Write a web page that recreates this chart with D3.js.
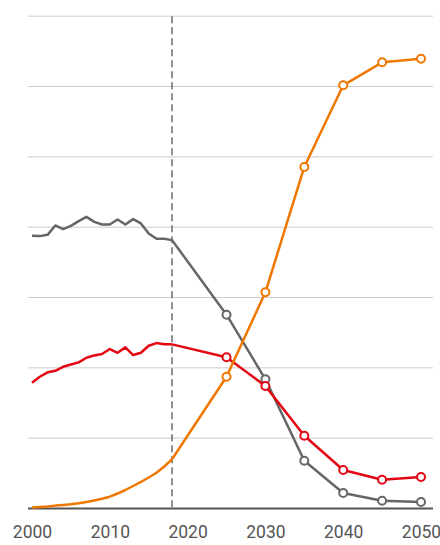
<!DOCTYPE html>
<html>
<head>
<meta charset="utf-8">
<script src="https://cdn.jsdelivr.net/npm/d3@7"></script>
<style>
  html, body { margin: 0; padding: 0; background: #fff; }
  svg { display: block; }
</style>
</head>
<body>
<svg id="chart" width="440" height="545"></svg>
<script>
// Historic yearly series 2000–2018 and projections 2025–2050
const histYears = d3.range(2000, 2019);
const projYears = [2018, 2025, 2030, 2035, 2040, 2045, 2050];

const grayHist = [38.77, 38.73, 38.91, 40.25, 39.72, 40.19, 40.86, 41.47, 40.76, 40.39,
                  40.39, 41.10, 40.39, 41.15, 40.53, 39.11, 38.35, 38.35, 38.16];
const redHist = [17.88, 18.73, 19.36, 19.58, 20.15, 20.47, 20.78, 21.43, 21.77, 21.96,
                 22.67, 22.14, 22.91, 21.82, 22.14, 23.14, 23.52, 23.34, 23.34];
const orangeHist = [0.14, 0.21, 0.28, 0.41, 0.50, 0.61, 0.75, 0.92, 1.14, 1.38,
                    1.68, 2.13, 2.63, 3.20, 3.77, 4.41, 5.09, 5.97, 7.00];

const grayProj = [38.16, 27.56, 18.37, 6.80, 2.20, 1.11, 0.92];
const redProj = [23.34, 21.50, 17.42, 10.35, 5.47, 4.10, 4.48];
const orangeProj = [7.00, 18.74, 30.74, 48.56, 60.17, 63.44, 63.96];

const xTicks = [2000, 2010, 2020, 2030, 2040, 2050];
const yTicks = [0, 10, 20, 30, 40, 50, 60, 70];
const markerYear = 2018;

const series = [
  { color: "#666666", hist: grayHist, proj: grayProj },
  { color: "#e30613", hist: redHist, proj: redProj },
  { color: "#f07800", hist: orangeHist, proj: orangeProj }
];

const svg = d3.select("#chart");
const x = d3.scaleLinear().domain([2000, 2050]).range([32, 421]);
const y = d3.scaleLinear().domain([0, 70]).range([508.5, 16.2]);

// horizontal grid
svg.append("g")
  .selectAll("line")
  .data(yTicks.filter(d => d > 0))
  .join("line")
  .attr("x1", 28).attr("x2", 433)
  .attr("y1", d => y(d)).attr("y2", d => y(d))
  .attr("stroke", "#cccccc")
  .attr("stroke-width", 1);

// x axis
const xAxis = svg.append("g")
  .attr("transform", `translate(0,${y(0)})`)
  .call(d3.axisBottom(x).tickValues(xTicks).tickFormat(d3.format("d")).tickSize(0).tickPadding(17));
xAxis.select(".domain").remove();
xAxis.selectAll("text")
  .attr("font-family", "Roboto, sans-serif")
  .attr("font-size", 17.5)
  .attr("fill", "#555");

// vertical dashed line at the last historic year
svg.append("line")
  .attr("x1", x(markerYear)).attr("x2", x(markerYear))
  .attr("y1", y(70)).attr("y2", y(0))
  .attr("stroke", "#606060")
  .attr("stroke-width", 1.4)
  .attr("stroke-dasharray", "7,4");

// baseline
svg.append("line")
  .attr("x1", 28).attr("x2", 433)
  .attr("y1", y(0)).attr("y2", y(0))
  .attr("stroke", "#555")
  .attr("stroke-width", 2);

const line = d3.line().x(d => x(d[0])).y(d => y(d[1]));

series.forEach(s => {
  const hist = histYears.map((yr, i) => [yr, s.hist[i]]);
  const proj = projYears.map((yr, i) => [yr, s.proj[i]]);
  const g = svg.append("g");
  g.append("path").datum(hist).attr("d", line)
    .attr("fill", "none").attr("stroke", s.color)
    .attr("stroke-width", 2.5).attr("stroke-linejoin", "round");
  g.append("path").datum(proj).attr("d", line)
    .attr("fill", "none").attr("stroke", s.color)
    .attr("stroke-width", 2.5).attr("stroke-linejoin", "round");
  g.selectAll("circle")
    .data(proj.slice(1))
    .join("circle")
    .attr("cx", d => x(d[0])).attr("cy", d => y(d[1]))
    .attr("r", 4)
    .attr("fill", "#fff")
    .attr("stroke", s.color)
    .attr("stroke-width", 2);
});
</script>
</body>
</html>
